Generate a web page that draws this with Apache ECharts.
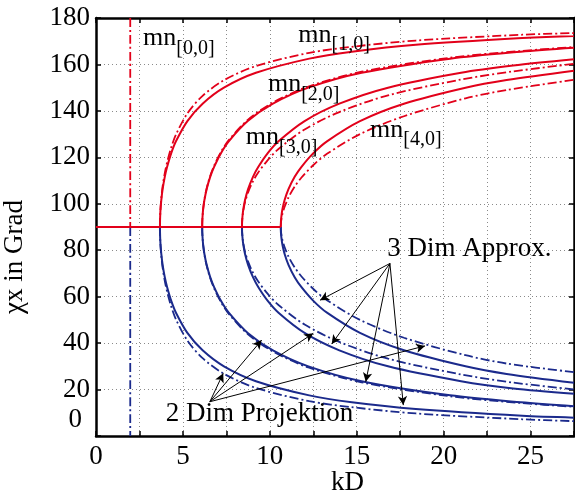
<!DOCTYPE html>
<html>
<head>
<meta charset="utf-8">
<script src="https://cdn.jsdelivr.net/npm/echarts@6/dist/echarts.min.js"></script>
<style>
  html, body { margin: 0; padding: 0; background: #fff; }
  #chart { width: 575px; height: 491px; }
</style>
</head>
<body>
<div id="chart"></div>
<script>
// Propagation angle chi_x (degrees) over kD for the modes mn[1,0] .. mn[4,0].
// Upper branch (red) above 90 deg, lower branch (blue) below 90 deg.
// Solid: 2D projection, dash-dot: 3D approximation.

const xTickLabels = [0, 5, 10, 15, 20, 25];
const yTickLabels = [0, 20, 40, 60, 80, 100, 120, 140, 160, 180];

// cutoff of mn[0,0] (vertical line) and the flat 90 deg segment
const kdCut00 = 1.97;
const kdFlatEnd = 10.63;

// mode [1,0]
const kd10 = [3.68, 3.684, 3.698, 3.717, 3.755, 3.833, 3.957, 4.089, 4.329, 4.6, 5.257, 6.133, 7.36, 9.2, 12.27, 14.72, 18.4, 24.53, 27.5];
const up10Solid = [90, 92.6, 95.7, 98.1, 101.5, 106.3, 111.6, 115.8, 121.8, 126.9, 135.6, 143.1, 150, 156.4, 162.5, 165.5, 168.5, 171.4, 172.3];
const up10Dash  = [90, 92.7, 96.0, 98.6, 102.3, 107.5, 113.2, 117.8, 124.3, 129.8, 138.9, 146.5, 153.2, 159.3, 165.0, 167.6, 170.3, 172.8, 173.5];
const lo10Solid = [90, 87.4, 84.3, 81.9, 78.5, 73.7, 68.4, 64.2, 58.2, 53.1, 44.4, 36.9, 30, 23.6, 17.5, 14.5, 11.6, 8.7, 7.9];
const lo10Dash  = [90, 87.3, 84.0, 81.4, 77.7, 72.5, 66.8, 62.2, 55.7, 50.2, 41.1, 33.5, 26.8, 20.7, 15.0, 12.4, 9.7, 7.2, 6.4];

// mode [2,0]
const kd20 = [6.11, 6.116, 6.141, 6.172, 6.235, 6.365, 6.57, 6.789, 7.188, 7.638, 8.729, 10.18, 12.22, 15.28, 20.37, 24.44, 27.5];
const up20Solid = [90, 92.6, 95.7, 98.1, 101.5, 106.3, 111.6, 115.8, 121.8, 126.9, 135.6, 143.1, 150, 156.4, 162.5, 165.5, 167.2];
const up20Dash  = [90, 92.6, 95.8, 98.2, 101.7, 106.6, 112.0, 116.3, 122.3, 127.4, 136.1, 143.6, 150.5, 156.9, 162.9, 165.8, 167.5];
const lo20Solid = [90, 87.4, 84.3, 81.9, 78.5, 73.7, 68.4, 64.2, 58.2, 53.1, 44.4, 36.9, 30, 23.6, 17.5, 14.5, 12.8];
const lo20Dash  = [90, 87.4, 84.2, 81.8, 78.3, 73.4, 68.0, 63.7, 57.7, 52.6, 43.9, 36.4, 29.5, 23.1, 17.1, 14.2, 12.6];

// mode [3,0]
const kd30 = [8.4, 8.408, 8.442, 8.485, 8.571, 8.75, 9.032, 9.333, 9.882, 10.5, 12.0, 14.0, 16.8, 21.0, 24.0, 27.5];
const up30Solid = [90, 92.6, 95.7, 98.1, 101.5, 106.3, 111.6, 115.8, 121.8, 126.9, 135.6, 143.1, 150, 156.4, 159.5, 162.2];
const up30Dash  = [90, 92.4, 95.3, 97.5, 100.6, 104.9, 109.7, 113.5, 118.8, 123.6, 132.0, 139.5, 146.7, 153.5, 157.0, 160.3];
const lo30Solid = [90, 87.4, 84.3, 81.9, 78.5, 73.7, 68.4, 64.2, 58.2, 53.1, 44.4, 36.9, 30, 23.6, 20.5, 18.2];
const lo30Dash  = [90, 87.6, 84.7, 82.5, 79.4, 75.1, 70.3, 66.5, 61.2, 56.4, 48.0, 40.5, 33.3, 26.5, 23.0, 20.1];

// mode [4,0]
const kd40 = [10.63, 10.641, 10.683, 10.737, 10.847, 11.073, 11.43, 11.811, 12.506, 13.288, 15.186, 17.717, 21.26, 23.622, 27.5];
const up40Solid = [90, 92.6, 95.7, 98.1, 101.5, 106.3, 111.6, 115.8, 121.8, 126.9, 135.6, 143.1, 150, 153.3, 157.3];
const up40Dash  = [90, 91.8, 94.1, 95.9, 98.6, 102.7, 107.4, 111.2, 116.7, 121.5, 130.0, 137.7, 145.4, 149.0, 153.4];
const lo40Solid = [90, 87.4, 84.3, 81.9, 78.5, 73.7, 68.4, 64.2, 58.2, 53.1, 44.4, 36.9, 30, 26.7, 22.9];
const lo40Dash  = [90, 88.2, 85.9, 84.1, 81.4, 77.3, 72.6, 68.8, 63.3, 58.5, 50.0, 42.3, 34.8, 31.2, 27.5];

// annotation text anchors (kD, chi) and arrow ends
const modeNames = ['[0,0]', '[1,0]', '[2,0]', '[3,0]', '[4,0]'];
const modeNameAt = [[2.71, 176.8], [11.64, 178.3], [9.89, 156.9], [8.62, 134.1], [15.77, 137.4]];
const approxText = '3 Dim Approx.';
const approxAt = [16.76, 86.5];
const approxFrom = [16.91, 74.3];
const approxTips = [[12.89, 58.5], [13.56, 39.6], [15.52, 23.4], [17.68, 13.3]];
const projText = '2 Dim Projektion';
const projAt = [4.01, 15.2];
const projFrom = [6.55, 14.75];
const projTips = [[7.32, 27.0], [9.53, 41.3], [12.5, 44.2], [18.93, 38.8]];

const FONT = '"Liberation Serif", "Times New Roman", serif';
const RED = '#e2001a';
const BLUE = '#1b2a8c';
const DASHDOT = [9, 3, 2, 3];

const pairs = (xs, ys) => xs.map((x, i) => [x, ys[i]]);

function curve(xs, ys, color, dashed) {
  return {
    type: 'line',
    data: pairs(xs, ys),
    showSymbol: false,
    smooth: 0.3,
    silent: true,
    lineStyle: { color: color, width: dashed ? 1.8 : 2, type: dashed ? DASHDOT : 'solid' },
    z: dashed ? 3 : 4
  };
}

const series = [];
// mn[0,0] vertical dash-dot line
series.push(curve([kdCut00, kdCut00], [180, 90], RED, true));
series.push(curve([kdCut00, kdCut00], [90, 0], BLUE, true));
// flat segment at 90 deg
series.push(curve([0, kdFlatEnd], [90, 90], BLUE, false));

const modes = [
  [kd10, up10Solid, up10Dash, lo10Solid, lo10Dash],
  [kd20, up20Solid, up20Dash, lo20Solid, lo20Dash],
  [kd30, up30Solid, up30Dash, lo30Solid, lo30Dash],
  [kd40, up40Solid, up40Dash, lo40Solid, lo40Dash]
];
modes.forEach(([kd, us, ud, ls, ld]) => {
  series.push(curve(kd, ld, BLUE, true));
  series.push(curve(kd, ls, BLUE, false));
  series.push(curve(kd, ud, RED, true));
  series.push(curve(kd, us, RED, false));
});
series.push(Object.assign(curve([0, kdFlatEnd], [90, 90], RED, false), { z: 5 }));

// mode labels mn[...]
series.push({
  type: 'scatter',
  symbolSize: 0,
  silent: true,
  z: 10,
  itemStyle: { opacity: 1 },
  data: modeNames.map((n, i) => ({ value: modeNameAt[i], name: n })),
  label: {
    show: true,
    opacity: 1,
    position: [0, 0],
    align: 'left',
    verticalAlign: 'top',
    formatter: p => '{a|mn}{b|' + p.name + '}',
    rich: {
      a: { fontFamily: FONT, fontSize: 26, lineHeight: 26, color: '#000', verticalAlign: 'top' },
      b: { fontFamily: FONT, fontSize: 20, lineHeight: 20, color: '#000', verticalAlign: 'top', padding: [13, 0, 0, 0] }
    }
  }
});

// arrow annotations
const arrowLines = [];
approxTips.forEach(t => arrowLines.push([{ coord: approxFrom }, { coord: t }]));
projTips.forEach(t => arrowLines.push([{ coord: projFrom }, { coord: t }]));

series.push({
  type: 'scatter',
  symbolSize: 0,
  silent: true,
  z: 10,
  itemStyle: { opacity: 1 },
  data: [{ value: approxAt, name: approxText }, { value: projAt, name: projText }],
  label: {
    show: true,
    opacity: 1,
    position: [0, 0],
    align: 'left',
    verticalAlign: 'top',
    formatter: p => p.name,
    fontFamily: FONT,
    fontSize: 27,
    lineHeight: 27,
    color: '#000'
  },
  markLine: {
    silent: true,
    symbol: ['none', 'arrow'],
    symbolSize: [7, 9],
    label: { show: false },
    lineStyle: { color: '#000', width: 1, type: 'solid', opacity: 1 },
    data: arrowLines,
    animation: false
  }
});

const gridLine = { show: true, lineStyle: { color: '#8a8a8a', width: 1, type: [1, 3] } };
const frame = { show: true, onZero: false, lineStyle: { color: '#000', width: 2.5 } };
const tickIn = { show: true, inside: true, length: 5, lineStyle: { color: '#000', width: 1.5 } };

const option = {
  animation: false,
  backgroundColor: '#fff',
  grid: { left: 96, top: 18, right: 1, bottom: 55, containLabel: false, outerBoundsMode: 'none' },
  xAxis: [
    {
      type: 'value', min: 0, max: 27.5, interval: 2.5,
      axisLine: frame, axisTick: tickIn, splitLine: gridLine,
      axisLabel: {
        margin: 7, color: '#000', fontFamily: FONT, fontSize: 27,
        formatter: v => (xTickLabels.indexOf(v) >= 0 ? String(v) : '')
      },
      name: 'kD', nameLocation: 'middle', nameGap: 33, nameMoveOverlap: false,
      nameTextStyle: { color: '#000', fontFamily: FONT, fontSize: 27, padding: [0, 0, 0, 25] }
    },
    {
      type: 'value', min: 0, max: 27.5, interval: 2.5, position: 'top',
      axisLine: frame, axisTick: tickIn, splitLine: { show: false }, axisLabel: { show: false }
    }
  ],
  yAxis: [
    {
      type: 'value', min: 0, max: 180, interval: 20,
      axisLine: frame, axisTick: tickIn, splitLine: gridLine,
      axisLabel: {
        margin: 6, color: '#000', fontFamily: FONT, fontSize: 27,
        formatter: v => (v === 0 ? '{z|0}' : (yTickLabels.indexOf(v) >= 0 ? String(v) : '')),
        rich: { z: { fontFamily: FONT, fontSize: 27, color: '#000', padding: [0, 8, 32, 0] } }
      },
      name: 'χx in Grad', nameLocation: 'middle', nameGap: 68, nameRotate: 90, nameMoveOverlap: false,
      nameTextStyle: { color: '#000', fontFamily: FONT, fontSize: 27, padding: [0, 60, 0, 0] }
    },
    {
      type: 'value', min: 0, max: 180, interval: 20, position: 'right',
      axisLine: frame, axisTick: tickIn, splitLine: { show: false }, axisLabel: { show: false }
    }
  ],
  series: series
};

const chart = echarts.init(document.getElementById('chart'), null, { renderer: 'canvas' });
chart.setOption(option);
</script>
</body>
</html>
